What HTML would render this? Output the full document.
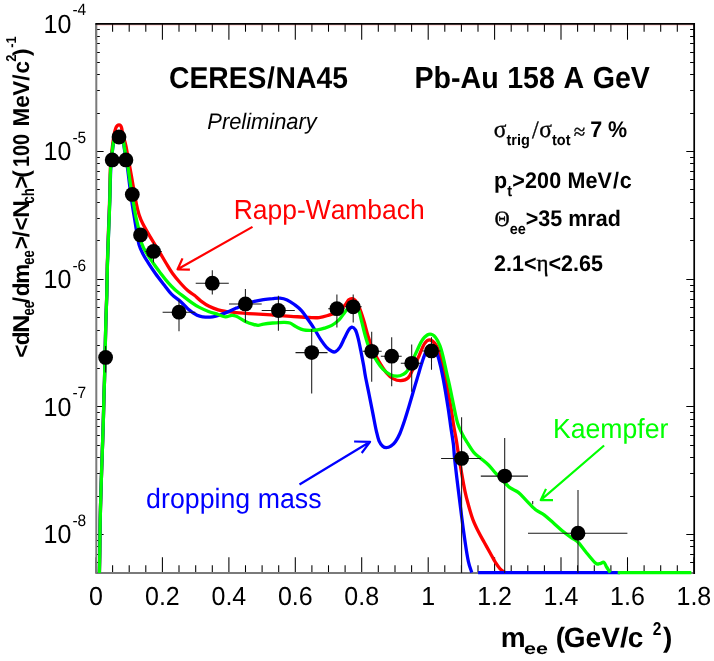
<!DOCTYPE html>
<html><head><meta charset="utf-8"><title>CERES/NA45</title>
<style>
html,body{margin:0;padding:0;background:#fff}
body{width:714px;height:661px;overflow:hidden;position:relative;font-family:"Liberation Sans",sans-serif;font-kerning:none;font-variant-ligatures:none;text-rendering:geometricPrecision}
#c{position:absolute;left:0;top:0;width:714px;height:661px;overflow:hidden;will-change:transform}
</style></head><body><div id="c">
<svg width="714" height="661" viewBox="0 0 714 661" style="position:absolute;left:0;top:0">
<path d="M96.0 573.0 V557.2 M96.0 23.9 V39.7 M112.6 573.0 V565.2 M112.6 23.9 V31.7 M129.2 573.0 V565.2 M129.2 23.9 V31.7 M145.8 573.0 V565.2 M145.8 23.9 V31.7 M162.4 573.0 V557.2 M162.4 23.9 V39.7 M179.0 573.0 V565.2 M179.0 23.9 V31.7 M195.7 573.0 V565.2 M195.7 23.9 V31.7 M212.3 573.0 V565.2 M212.3 23.9 V31.7 M228.9 573.0 V557.2 M228.9 23.9 V39.7 M245.5 573.0 V565.2 M245.5 23.9 V31.7 M262.1 573.0 V565.2 M262.1 23.9 V31.7 M278.7 573.0 V565.2 M278.7 23.9 V31.7 M295.3 573.0 V557.2 M295.3 23.9 V39.7 M311.9 573.0 V565.2 M311.9 23.9 V31.7 M328.5 573.0 V565.2 M328.5 23.9 V31.7 M345.1 573.0 V565.2 M345.1 23.9 V31.7 M361.7 573.0 V557.2 M361.7 23.9 V39.7 M378.3 573.0 V565.2 M378.3 23.9 V31.7 M395.0 573.0 V565.2 M395.0 23.9 V31.7 M411.6 573.0 V565.2 M411.6 23.9 V31.7 M428.2 573.0 V557.2 M428.2 23.9 V39.7 M444.8 573.0 V565.2 M444.8 23.9 V31.7 M461.4 573.0 V565.2 M461.4 23.9 V31.7 M478.0 573.0 V565.2 M478.0 23.9 V31.7 M494.6 573.0 V557.2 M494.6 23.9 V39.7 M511.2 573.0 V565.2 M511.2 23.9 V31.7 M527.8 573.0 V565.2 M527.8 23.9 V31.7 M544.4 573.0 V565.2 M544.4 23.9 V31.7 M561.0 573.0 V557.2 M561.0 23.9 V39.7 M577.6 573.0 V565.2 M577.6 23.9 V31.7 M594.3 573.0 V565.2 M594.3 23.9 V31.7 M610.9 573.0 V565.2 M610.9 23.9 V31.7 M627.5 573.0 V557.2 M627.5 23.9 V39.7 M644.1 573.0 V565.2 M644.1 23.9 V31.7 M660.7 573.0 V565.2 M660.7 23.9 V31.7 M677.3 573.0 V565.2 M677.3 23.9 V31.7 M693.9 573.0 V557.2 M693.9 23.9 V39.7 M96.0 573.5 H99.8 M693.9 573.5 H690.1 M96.0 562.5 H99.8 M693.9 562.5 H690.1 M96.0 554.5 H99.8 M693.9 554.5 H690.1 M96.0 546.5 H99.8 M693.9 546.5 H690.1 M96.0 540.5 H99.8 M693.9 540.5 H690.1 M96.0 534.5 H103.6 M693.9 534.5 H686.3 M96.0 496.5 H99.8 M693.9 496.5 H690.1 M96.0 473.5 H99.8 M693.9 473.5 H690.1 M96.0 457.5 H99.8 M693.9 457.5 H690.1 M96.0 445.5 H99.8 M693.9 445.5 H690.1 M96.0 435.5 H99.8 M693.9 435.5 H690.1 M96.0 426.5 H99.8 M693.9 426.5 H690.1 M96.0 419.5 H99.8 M693.9 419.5 H690.1 M96.0 412.5 H99.8 M693.9 412.5 H690.1 M96.0 406.5 H103.6 M693.9 406.5 H686.3 M96.0 368.5 H99.8 M693.9 368.5 H690.1 M96.0 345.5 H99.8 M693.9 345.5 H690.1 M96.0 330.5 H99.8 M693.9 330.5 H690.1 M96.0 317.5 H99.8 M693.9 317.5 H690.1 M96.0 307.5 H99.8 M693.9 307.5 H690.1 M96.0 299.5 H99.8 M693.9 299.5 H690.1 M96.0 291.5 H99.8 M693.9 291.5 H690.1 M96.0 285.5 H99.8 M693.9 285.5 H690.1 M96.0 279.5 H103.6 M693.9 279.5 H686.3 M96.0 240.5 H99.8 M693.9 240.5 H690.1 M96.0 218.5 H99.8 M693.9 218.5 H690.1 M96.0 202.5 H99.8 M693.9 202.5 H690.1 M96.0 189.5 H99.8 M693.9 189.5 H690.1 M96.0 179.5 H99.8 M693.9 179.5 H690.1 M96.0 171.5 H99.8 M693.9 171.5 H690.1 M96.0 163.5 H99.8 M693.9 163.5 H690.1 M96.0 157.5 H99.8 M693.9 157.5 H690.1 M96.0 151.5 H103.6 M693.9 151.5 H686.3 M96.0 113.5 H99.8 M693.9 113.5 H690.1 M96.0 90.5 H99.8 M693.9 90.5 H690.1 M96.0 74.5 H99.8 M693.9 74.5 H690.1 M96.0 62.5 H99.8 M693.9 62.5 H690.1 M96.0 52.5 H99.8 M693.9 52.5 H690.1 M96.0 43.5 H99.8 M693.9 43.5 H690.1 M96.0 36.5 H99.8 M693.9 36.5 H690.1 M96.0 29.5 H99.8 M693.9 29.5 H690.1 M96.0 23.5 H103.6 M693.9 23.5 H686.3" stroke="#000" stroke-width="1.05" fill="none"/>
<path d="M96.3 23.3 V573.0 H693.9" stroke="#7a7a7a" stroke-width="2" fill="none"/>
<path d="M97.0 24.9 H692.9" stroke="#ff0000" stroke-width="0.8" fill="none" opacity="0.4"/>
<path d="M95.4 23.9 H694.2 V573.9" stroke="#000" stroke-width="1.7" fill="none"/>
<g fill="none" stroke-width="3.3" stroke-linejoin="round" stroke-linecap="butt">
<path d="M99.4 573.0 C99.5 569.2 99.7 558.8 99.8 550.0 C99.9 541.2 100.0 530.0 100.2 520.0 C100.4 510.0 100.7 500.5 101.0 490.0 C101.3 479.5 101.7 467.8 102.1 457.0 C102.5 446.2 102.9 435.3 103.2 425.0 C103.5 414.7 103.8 402.5 104.0 395.0 C104.2 387.5 104.3 387.5 104.5 380.0 C104.7 372.5 105.0 360.0 105.2 350.0 C105.4 340.0 105.7 329.2 105.9 320.0 C106.2 310.8 106.5 304.2 106.7 295.0 C106.9 285.8 107.0 275.5 107.3 265.0 C107.6 254.5 108.0 242.8 108.4 232.0 C108.8 221.2 109.3 210.7 109.6 200.0 C109.9 189.3 110.0 176.3 110.4 168.0 C110.8 159.7 111.4 155.5 112.0 150.0 C112.6 144.5 113.4 138.7 114.0 135.0 C114.6 131.3 115.2 129.6 115.8 128.0 C116.4 126.4 117.0 126.0 117.5 125.5 C118.0 125.0 118.5 124.8 119.0 124.8 C119.5 124.8 120.1 125.0 120.5 125.5 C120.9 126.0 121.2 126.4 121.6 128.0 C122.0 129.6 122.3 131.9 123.0 135.0 C123.7 138.1 125.1 142.1 126.0 146.3 C126.9 150.5 127.8 156.4 128.5 160.0 C129.2 163.6 129.2 163.8 130.0 168.0 C130.8 172.2 131.9 179.1 133.0 185.0 C134.1 190.9 135.3 198.7 136.3 203.6 C137.3 208.5 137.9 211.2 139.0 214.5 C140.1 217.8 140.9 220.0 142.7 223.6 C144.5 227.2 147.0 231.5 149.9 236.3 C152.8 241.2 157.2 248.2 159.9 252.7 C162.6 257.2 164.2 260.0 166.3 263.5 C168.4 267.0 170.2 270.2 172.6 273.5 C175.0 276.8 178.2 280.6 180.8 283.5 C183.4 286.4 185.7 288.8 188.0 290.8 C190.3 292.8 192.3 293.6 194.4 295.3 C196.5 297.0 198.2 299.0 200.7 300.8 C203.1 302.6 206.2 304.8 209.1 306.3 C212.0 307.8 215.2 309.0 218.2 309.9 C221.2 310.8 224.2 311.2 227.2 311.7 C230.2 312.1 231.8 312.2 236.3 312.6 C240.9 313.0 248.4 313.5 254.5 313.9 C260.6 314.3 266.6 314.6 272.6 315.0 C278.7 315.4 284.8 315.9 290.8 316.3 C296.9 316.7 304.2 317.3 308.9 317.5 C313.6 317.7 315.9 318.0 319.1 317.6 C322.3 317.2 325.2 316.3 328.2 315.4 C331.2 314.5 334.2 313.6 336.9 312.0 C339.6 310.4 342.5 307.6 344.5 305.6 C346.5 303.6 347.5 301.0 348.8 299.8 C350.1 298.6 351.1 298.5 352.2 298.6 C353.3 298.7 354.2 299.1 355.4 300.6 C356.6 302.1 357.9 304.4 359.3 307.6 C360.7 310.8 362.1 315.1 363.6 319.9 C365.1 324.7 366.6 331.4 368.1 336.3 C369.6 341.2 370.8 344.8 372.6 349.0 C374.4 353.2 376.7 357.8 379.0 361.7 C381.3 365.6 383.9 369.7 386.3 372.6 C388.7 375.5 391.1 377.5 393.5 378.9 C395.9 380.2 398.4 380.8 400.8 380.7 C403.2 380.6 406.0 379.9 408.0 378.0 C410.0 376.1 411.2 372.6 413.0 369.0 C414.8 365.4 417.0 360.4 418.9 356.2 C420.8 352.0 422.6 346.3 424.5 343.6 C426.4 340.9 428.0 339.7 430.0 340.0 C432.0 340.3 434.6 343.0 436.3 345.4 C438.0 347.8 438.8 350.6 440.0 354.5 C441.2 358.4 442.4 363.6 443.6 369.0 C444.8 374.4 446.0 380.8 447.2 387.2 C448.4 393.6 449.8 400.8 450.9 407.1 C452.0 413.5 452.7 419.8 453.6 425.3 C454.5 430.8 455.5 435.4 456.3 440.0 C457.1 444.6 457.3 447.2 458.2 452.7 C459.1 458.2 460.5 466.7 461.6 473.1 C462.7 479.5 463.9 486.0 465.0 491.3 C466.1 496.6 467.1 500.2 468.4 504.9 C469.7 509.6 471.2 515.1 472.9 519.6 C474.6 524.1 476.7 528.3 478.6 532.1 C480.5 535.9 482.3 538.9 484.2 542.3 C486.1 545.7 488.0 549.1 489.9 552.5 C491.8 555.9 493.9 560.0 495.6 562.7 C497.3 565.4 498.6 567.3 500.1 568.9 C501.6 570.5 503.9 571.9 504.7 572.5" stroke="#ff0000"/>
<path d="M99.4 573.0 C99.5 569.2 99.7 558.8 99.8 550.0 C99.9 541.2 100.0 530.0 100.2 520.0 C100.4 510.0 100.7 500.5 101.0 490.0 C101.3 479.5 101.7 467.8 102.1 457.0 C102.5 446.2 102.9 435.3 103.2 425.0 C103.5 414.7 103.8 402.5 104.0 395.0 C104.2 387.5 104.3 387.5 104.5 380.0 C104.7 372.5 105.0 360.0 105.2 350.0 C105.4 340.0 105.6 329.2 105.9 320.0 C106.2 310.8 106.5 304.2 106.8 295.0 C107.0 285.8 107.1 275.5 107.4 265.0 C107.7 254.5 108.2 242.8 108.6 232.0 C109.0 221.2 109.4 210.7 109.8 200.0 C110.2 189.3 110.3 176.9 110.8 168.0 C111.3 159.1 112.4 151.1 113.0 146.3 C113.6 141.5 114.0 141.0 114.6 139.0 C115.2 137.0 115.8 135.5 116.5 134.5 C117.2 133.5 118.2 133.0 119.0 133.0 C119.8 133.0 120.8 133.5 121.5 134.5 C122.2 135.5 122.5 137.0 122.9 139.0 C123.3 141.0 123.5 142.8 124.0 146.3 C124.5 149.8 125.4 156.4 126.0 160.0 C126.6 163.6 126.8 163.3 127.5 168.0 C128.2 172.7 129.2 182.1 130.0 188.0 C130.8 193.9 131.3 198.6 132.1 203.6 C132.8 208.6 133.7 213.3 134.5 218.2 C135.3 223.0 136.1 228.3 136.8 232.7 C137.6 237.1 138.0 241.0 139.0 244.5 C140.0 248.0 141.2 250.6 142.7 253.6 C144.2 256.6 146.0 259.3 148.1 262.6 C150.2 265.9 152.7 269.7 155.4 273.5 C158.1 277.3 161.7 281.8 164.4 285.3 C167.1 288.8 169.0 291.7 171.7 294.4 C174.4 297.1 178.1 299.3 180.8 301.7 C183.5 304.1 185.3 306.6 188.0 308.9 C190.7 311.2 194.6 314.0 197.1 315.3 C199.6 316.6 200.4 316.6 203.0 316.8 C205.6 317.1 209.9 317.1 212.7 316.8 C215.5 316.5 217.6 315.8 220.0 315.0 C222.4 314.2 224.5 313.2 227.2 312.1 C229.9 311.0 233.3 309.4 236.3 308.1 C239.3 306.8 242.4 305.4 245.4 304.3 C248.4 303.2 251.5 302.2 254.5 301.4 C257.5 300.6 260.5 300.1 263.5 299.6 C266.5 299.2 269.9 298.9 272.6 298.7 C275.3 298.4 277.5 297.9 279.9 298.1 C282.3 298.3 284.7 298.8 287.1 299.9 C289.5 301.0 292.0 302.7 294.4 304.5 C296.8 306.3 299.3 308.1 301.7 310.8 C304.1 313.5 306.8 317.8 308.9 320.8 C311.0 323.8 312.4 325.8 314.4 329.0 C316.4 332.2 318.9 336.9 320.9 339.9 C322.9 342.9 324.5 345.2 326.3 347.1 C328.1 349.0 330.3 350.5 331.8 351.3 C333.3 352.1 334.0 352.4 335.4 351.7 C336.8 351.0 338.5 349.4 340.0 347.1 C341.5 344.8 343.1 340.8 344.5 338.1 C345.9 335.4 346.9 332.6 348.1 330.8 C349.3 329.0 350.6 327.4 351.8 327.2 C353.0 327.0 354.3 328.1 355.4 329.9 C356.4 331.7 357.2 334.6 358.1 338.1 C359.0 341.6 359.9 346.3 360.8 350.8 C361.7 355.3 362.8 361.1 363.6 365.3 C364.4 369.6 364.5 371.4 365.4 376.3 C366.3 381.2 367.9 388.4 369.1 394.5 C370.3 400.6 371.5 406.6 372.7 412.6 C373.9 418.7 375.2 426.1 376.3 430.8 C377.4 435.5 377.9 438.2 379.0 440.8 C380.1 443.4 381.5 445.1 382.7 446.2 C383.9 447.3 384.9 447.7 386.3 447.7 C387.7 447.7 389.3 447.2 390.8 446.2 C392.3 445.2 393.9 443.8 395.4 441.7 C396.9 439.6 398.4 437.0 399.9 433.5 C401.4 430.0 403.0 425.3 404.5 420.8 C406.0 416.3 407.5 411.3 409.0 406.3 C410.5 401.3 412.0 396.0 413.5 390.8 C415.0 385.6 416.6 380.4 418.1 375.4 C419.6 370.3 421.2 364.6 422.6 360.5 C424.0 356.4 425.1 353.1 426.5 350.6 C427.9 348.1 429.5 346.2 430.8 345.6 C432.1 345.0 433.2 345.9 434.3 347.2 C435.4 348.5 436.0 350.2 437.1 353.5 C438.2 356.8 439.6 361.9 440.8 367.2 C442.0 372.5 443.2 378.7 444.4 385.4 C445.6 392.1 446.9 400.2 448.0 407.2 C449.1 414.1 449.9 420.8 450.8 427.1 C451.7 433.5 452.9 439.9 453.5 445.3 C454.1 450.7 453.9 452.2 454.7 459.5 C455.5 466.8 457.0 479.6 458.2 489.0 C459.4 498.4 460.5 507.5 461.6 516.2 C462.7 524.9 463.9 533.6 465.0 541.2 C466.1 548.8 467.3 556.4 468.4 561.6 C469.5 566.8 471.2 570.7 471.8 572.5" stroke="#0000ff"/>
<path d="M478.1 572.6 H620" stroke="#0000ff"/>
<path d="M99.4 573.0 C99.5 569.2 99.7 558.8 99.8 550.0 C99.9 541.2 100.0 530.0 100.2 520.0 C100.4 510.0 100.7 500.5 101.0 490.0 C101.3 479.5 101.7 467.8 102.1 457.0 C102.5 446.2 102.9 435.3 103.2 425.0 C103.5 414.7 103.8 402.5 104.0 395.0 C104.2 387.5 104.3 387.5 104.5 380.0 C104.7 372.5 105.0 360.0 105.2 350.0 C105.4 340.0 105.6 329.2 105.9 320.0 C106.2 310.8 106.5 304.2 106.8 295.0 C107.0 285.8 107.1 275.5 107.4 265.0 C107.7 254.5 108.2 242.8 108.6 232.0 C109.0 221.2 109.5 210.7 109.8 200.0 C110.1 189.3 110.1 176.9 110.6 168.0 C111.1 159.1 112.3 151.1 112.9 146.3 C113.5 141.5 113.8 141.1 114.3 139.0 C114.8 136.9 115.4 135.1 116.2 134.0 C117.0 132.9 118.1 132.3 119.0 132.3 C119.9 132.3 121.1 132.9 121.8 134.0 C122.5 135.1 122.8 136.9 123.2 139.0 C123.6 141.1 123.7 142.8 124.2 146.3 C124.8 149.8 125.8 156.4 126.5 160.0 C127.2 163.6 127.3 163.3 128.1 168.0 C128.8 172.7 130.1 182.1 131.0 188.0 C131.9 193.9 132.9 199.2 133.6 203.6 C134.3 208.0 134.6 210.3 135.4 214.5 C136.2 218.7 137.6 224.2 138.7 229.0 C139.8 233.8 140.4 239.7 141.7 243.6 C143.0 247.5 144.3 249.4 146.3 252.7 C148.3 256.0 151.1 260.0 153.5 263.5 C155.9 267.0 158.4 270.3 160.8 273.5 C163.2 276.7 165.7 279.9 168.1 282.6 C170.5 285.3 172.6 287.5 175.3 289.9 C178.0 292.3 181.7 295.0 184.4 297.1 C187.1 299.2 189.3 300.9 191.7 302.6 C194.1 304.3 196.0 305.6 198.9 307.1 C201.8 308.6 205.9 310.5 209.1 311.7 C212.3 312.9 215.5 313.6 218.2 314.5 C220.9 315.4 223.1 316.7 225.4 316.8 C227.7 316.9 230.0 315.5 231.8 315.4 C233.6 315.3 234.0 315.3 236.3 316.3 C238.6 317.3 242.7 320.1 245.4 321.4 C248.1 322.7 250.5 323.5 252.6 324.1 C254.7 324.8 256.3 325.3 258.1 325.3 C259.9 325.3 261.1 324.5 263.5 324.1 C265.9 323.7 269.3 323.3 272.6 323.0 C275.9 322.7 280.6 322.3 283.5 322.3 C286.4 322.3 287.8 322.2 289.9 323.0 C292.0 323.8 293.9 325.7 296.2 326.8 C298.5 327.9 301.1 329.3 303.5 329.9 C305.9 330.5 308.4 330.4 310.7 330.4 C313.0 330.4 315.0 330.3 317.3 329.9 C319.6 329.5 322.1 328.9 324.5 328.1 C326.9 327.4 329.4 326.8 331.8 325.4 C334.2 324.0 336.9 322.0 339.0 319.9 C341.1 317.8 343.0 314.7 344.5 312.7 C346.0 310.7 346.9 309.3 348.1 308.1 C349.4 306.9 350.7 305.8 352.0 305.5 C353.3 305.2 354.8 305.6 356.0 306.5 C357.2 307.4 358.1 308.3 359.0 310.8 C359.9 313.3 360.6 317.4 361.7 321.7 C362.8 325.9 364.2 332.1 365.4 336.3 C366.6 340.5 367.0 342.9 369.0 347.1 C371.0 351.3 374.9 358.1 377.2 361.7 C379.5 365.3 380.5 366.8 382.6 368.9 C384.7 371.0 387.5 373.2 389.9 374.4 C392.3 375.6 395.0 376.1 397.1 376.2 C399.2 376.2 400.8 375.8 402.6 374.7 C404.4 373.6 405.9 373.2 408.0 369.8 C410.1 366.4 413.2 358.9 415.3 354.4 C417.4 349.9 419.3 345.5 420.8 342.6 C422.3 339.7 423.0 338.6 424.5 337.2 C426.0 335.8 428.2 334.2 430.0 334.2 C431.8 334.2 433.8 335.3 435.4 337.2 C437.0 339.1 438.5 342.2 439.8 345.4 C441.1 348.6 441.9 351.8 443.0 356.3 C444.1 360.8 445.4 367.2 446.6 372.6 C447.8 378.1 449.1 383.2 450.3 389.0 C451.5 394.8 452.8 401.4 454.0 407.1 C455.2 412.9 456.3 418.9 457.7 423.5 C459.1 428.1 460.9 431.2 462.5 434.4 C464.1 437.6 465.3 439.4 467.2 442.5 C469.1 445.6 471.7 450.1 474.0 452.7 C476.3 455.3 478.3 456.3 480.8 458.4 C483.3 460.5 486.3 462.8 488.8 465.2 C491.3 467.6 493.2 470.5 495.6 473.1 C498.0 475.7 500.6 478.5 503.0 481.0 C505.4 483.5 507.8 486.0 510.3 487.9 C512.9 489.8 515.6 490.3 518.3 492.4 C520.9 494.5 523.4 497.5 526.2 500.3 C529.0 503.1 532.3 506.9 535.3 509.4 C538.3 511.9 541.4 512.8 544.4 515.1 C547.4 517.4 550.5 520.4 553.5 523.0 C556.5 525.6 559.5 528.5 562.5 531.0 C565.5 533.5 569.0 536.0 571.6 537.8 C574.2 539.6 575.5 539.7 577.9 542.0 C580.2 544.3 582.8 548.2 585.7 551.7 C588.6 555.2 593.1 560.9 595.4 562.9 C597.7 564.9 598.2 563.8 599.6 563.7 C601.0 563.6 602.6 561.8 603.8 562.3 C605.0 562.8 605.5 565.3 606.6 567.0 C607.7 568.7 609.6 571.7 610.2 572.6" stroke="#00ff00"/>
<path d="M617.7 572.6 H691.3" stroke="#00ff00"/>
</g>
<path d="M105.6 345.9 V372.6 M145.2 251.4 H161.8 M153.5 242.5 V262.5 M162.6 312.2 H195.3 M179.0 299.6 V331.3 M195.7 283.2 H228.8 M212.3 270.3 V294.5 M229.0 303.9 H261.7 M245.4 289.0 V322.6 M261.7 310.5 H294.8 M278.4 295.8 V330.8 M295.5 352.6 H327.5 M311.7 329.0 V393.4 M328.2 308.7 H344.7 M336.9 294.5 V327.5 M344.9 306.8 H361.7 M353.2 294.5 V322.6 M362.6 351.3 H381.7 M371.7 331.7 V381.8 M380.8 356.2 H401.7 M391.7 337.2 V386.3 M400.8 363.3 H421.7 M411.7 344.4 V391.7 M422.5 350.9 H440.5 M431.5 337.2 V369.7 M441.1 458.4 H480.8 M461.6 417.2 V573.0 M480.8 476.1 H528.0 M504.7 437.9 V573.0 M528.0 533.2 H627.4 M578.0 490.0 V573.0 M532.7 501 V504.3" stroke="#1a1a1a" stroke-width="1.05" fill="none"/>
<circle cx="105.6" cy="357.4" r="7.4" fill="#000"/>
<circle cx="119.0" cy="137.0" r="7.4" fill="#000"/>
<circle cx="112.2" cy="159.9" r="7.4" fill="#000"/>
<circle cx="125.9" cy="159.9" r="7.4" fill="#000"/>
<circle cx="132.3" cy="194.4" r="7.4" fill="#000"/>
<circle cx="140.5" cy="234.9" r="7.4" fill="#000"/>
<circle cx="153.5" cy="251.4" r="7.4" fill="#000"/>
<circle cx="179.0" cy="312.2" r="7.4" fill="#000"/>
<circle cx="212.3" cy="283.2" r="7.4" fill="#000"/>
<circle cx="245.4" cy="303.9" r="7.4" fill="#000"/>
<circle cx="278.4" cy="310.5" r="7.4" fill="#000"/>
<circle cx="311.7" cy="352.6" r="7.4" fill="#000"/>
<circle cx="336.9" cy="308.7" r="7.4" fill="#000"/>
<circle cx="353.2" cy="306.8" r="7.4" fill="#000"/>
<circle cx="371.7" cy="351.3" r="7.4" fill="#000"/>
<circle cx="391.7" cy="356.2" r="7.4" fill="#000"/>
<circle cx="411.7" cy="363.3" r="7.4" fill="#000"/>
<circle cx="431.5" cy="350.9" r="7.4" fill="#000"/>
<circle cx="461.6" cy="458.4" r="7.4" fill="#000"/>
<circle cx="504.7" cy="476.1" r="7.4" fill="#000"/>
<circle cx="578.0" cy="533.2" r="7.4" fill="#000"/>
<path d="M252.5 226.9 L177.6 269.3 M182.5 258.4 L177.6 269.3 L189.9 269.6" stroke="#ff0000" stroke-width="2.2" fill="none" stroke-linejoin="round" stroke-linecap="butt"/>
<path d="M299.5 484.5 L370.1 441.8 M354.1 441.5 L370.1 441.8 L361.7 453.0" stroke="#0000ff" stroke-width="2.2" fill="none" stroke-linejoin="round" stroke-linecap="butt"/>
<path d="M604.1 445.5 L540.7 500.1 M546.0 488.9 L540.7 500.1 L553.0 500.1" stroke="#00ff00" stroke-width="2.2" fill="none" stroke-linejoin="round" stroke-linecap="butt"/>
</svg>
<div style="position:absolute;white-space:nowrap;font-size:25px;line-height:28.725px;color:#000;font-weight:normal;font-style:normal;top:583.38px;left:96.0px;transform-origin:0 22.62px;transform:translateX(-50%) scaleY(1.045);">0</div>
<div style="position:absolute;white-space:nowrap;font-size:25px;line-height:28.725px;color:#000;font-weight:normal;font-style:normal;top:583.38px;left:162.4px;transform-origin:0 22.62px;transform:translateX(-50%) scaleY(1.045);">0.2</div>
<div style="position:absolute;white-space:nowrap;font-size:25px;line-height:28.725px;color:#000;font-weight:normal;font-style:normal;top:583.38px;left:228.9px;transform-origin:0 22.62px;transform:translateX(-50%) scaleY(1.045);">0.4</div>
<div style="position:absolute;white-space:nowrap;font-size:25px;line-height:28.725px;color:#000;font-weight:normal;font-style:normal;top:583.38px;left:295.3px;transform-origin:0 22.62px;transform:translateX(-50%) scaleY(1.045);">0.6</div>
<div style="position:absolute;white-space:nowrap;font-size:25px;line-height:28.725px;color:#000;font-weight:normal;font-style:normal;top:583.38px;left:361.7px;transform-origin:0 22.62px;transform:translateX(-50%) scaleY(1.045);">0.8</div>
<div style="position:absolute;white-space:nowrap;font-size:25px;line-height:28.725px;color:#000;font-weight:normal;font-style:normal;top:583.38px;left:428.2px;transform-origin:0 22.62px;transform:translateX(-50%) scaleY(1.045);">1</div>
<div style="position:absolute;white-space:nowrap;font-size:25px;line-height:28.725px;color:#000;font-weight:normal;font-style:normal;top:583.38px;left:494.6px;transform-origin:0 22.62px;transform:translateX(-50%) scaleY(1.045);">1.2</div>
<div style="position:absolute;white-space:nowrap;font-size:25px;line-height:28.725px;color:#000;font-weight:normal;font-style:normal;top:583.38px;left:561.0px;transform-origin:0 22.62px;transform:translateX(-50%) scaleY(1.045);">1.4</div>
<div style="position:absolute;white-space:nowrap;font-size:25px;line-height:28.725px;color:#000;font-weight:normal;font-style:normal;top:583.38px;left:627.5px;transform-origin:0 22.62px;transform:translateX(-50%) scaleY(1.045);">1.6</div>
<div style="position:absolute;white-space:nowrap;font-size:25px;line-height:28.725px;color:#000;font-weight:normal;font-style:normal;top:583.38px;left:693.9px;transform-origin:0 22.62px;transform:translateX(-50%) scaleY(1.045);">1.8</div>
<div style="position:absolute;white-space:nowrap;font-size:25px;line-height:28.725px;color:#000;font-weight:normal;font-style:normal;top:521.44px;left:43.6px;transform-origin:0 22.62px;transform:scaleY(1.05);">10</div>
<div style="position:absolute;white-space:nowrap;font-size:15.5px;line-height:17.8095px;color:#000;font-weight:normal;font-style:normal;top:512.84px;left:72.4px;transform-origin:0 14.03px;transform:scaleY(1.06);">-8</div>
<div style="position:absolute;white-space:nowrap;font-size:25px;line-height:28.725px;color:#000;font-weight:normal;font-style:normal;top:393.78px;left:43.6px;transform-origin:0 22.62px;transform:scaleY(1.05);">10</div>
<div style="position:absolute;white-space:nowrap;font-size:15.5px;line-height:17.8095px;color:#000;font-weight:normal;font-style:normal;top:385.17px;left:72.4px;transform-origin:0 14.03px;transform:scaleY(1.06);">-7</div>
<div style="position:absolute;white-space:nowrap;font-size:25px;line-height:28.725px;color:#000;font-weight:normal;font-style:normal;top:266.11px;left:43.6px;transform-origin:0 22.62px;transform:scaleY(1.05);">10</div>
<div style="position:absolute;white-space:nowrap;font-size:15.5px;line-height:17.8095px;color:#000;font-weight:normal;font-style:normal;top:257.51px;left:72.4px;transform-origin:0 14.03px;transform:scaleY(1.06);">-6</div>
<div style="position:absolute;white-space:nowrap;font-size:25px;line-height:28.725px;color:#000;font-weight:normal;font-style:normal;top:138.44px;left:43.6px;transform-origin:0 22.62px;transform:scaleY(1.05);">10</div>
<div style="position:absolute;white-space:nowrap;font-size:15.5px;line-height:17.8095px;color:#000;font-weight:normal;font-style:normal;top:129.84px;left:72.4px;transform-origin:0 14.03px;transform:scaleY(1.06);">-5</div>
<div style="position:absolute;white-space:nowrap;font-size:25px;line-height:28.725px;color:#000;font-weight:normal;font-style:normal;top:10.77px;left:43.6px;transform-origin:0 22.62px;transform:scaleY(1.05);">10</div>
<div style="position:absolute;white-space:nowrap;font-size:15.5px;line-height:17.8095px;color:#000;font-weight:normal;font-style:normal;top:2.17px;left:72.4px;transform-origin:0 14.03px;transform:scaleY(1.06);">-4</div>
<div style="position:absolute;white-space:nowrap;font-size:28.3px;line-height:32.5167px;color:#000;font-weight:bold;font-style:normal;top:61.99px;left:169.0px;transform-origin:0 25.61px;transform:scaleY(1.065);">CERES<span style="padding:0 0.7px 0 0.5px">/</span>NA45</div>
<div style="position:absolute;white-space:nowrap;font-size:28.6px;line-height:32.8614px;color:#000;font-weight:bold;font-style:normal;top:62.52px;left:414.5px;transform-origin:0 25.88px;word-spacing:0.6px;transform:scaleY(1.065);">Pb-Au 158 A GeV</div>
<div style="position:absolute;white-space:nowrap;font-size:21.9px;line-height:25.1631px;color:#000;font-weight:normal;font-style:italic;top:108.98px;left:207.3px;transform-origin:0 19.82px;transform:scaleY(1.03);">Preliminary</div>
<div style="position:absolute;white-space:nowrap;font-size:26.45px;line-height:30.391px;color:#ff0000;font-weight:normal;font-style:normal;top:195.26px;left:233.7px;transform-origin:0 23.94px;transform:scaleY(1.04);">Rapp-Wambach</div>
<div style="position:absolute;white-space:nowrap;font-size:26.75px;line-height:30.7357px;color:#0000ff;font-weight:normal;font-style:normal;top:483.59px;left:146.1px;transform-origin:0 24.21px;transform:scaleY(1.04);">dropping mass</div>
<div style="position:absolute;white-space:nowrap;font-size:26.6px;line-height:30.5634px;color:#00ff00;font-weight:normal;font-style:normal;top:413.53px;left:553.0px;transform-origin:0 24.07px;transform:scaleY(1.04);">Kaempfer</div>
<div style="position:absolute;white-space:nowrap;font-size:21.5px;line-height:24.7035px;color:#000;font-weight:bold;font-style:normal;top:118.04px;left:493.8px;transform-origin:0 19.46px;transform:scaleY(1.05);"><span style="font-family:'Liberation Serif',serif;font-weight:normal;-webkit-text-stroke:0.35px #000;font-size:23.5px">σ</span><span style="font-size:14.5px;position:relative;top:7.5px;line-height:0">trig</span><span style="font-family:'Liberation Serif',serif;font-weight:normal;-webkit-text-stroke:0.35px #000;font-size:24px;padding:0 0.6px 0 2.2px;position:relative;top:0.5px">/</span><span style="font-family:'Liberation Serif',serif;font-weight:normal;-webkit-text-stroke:0.35px #000;font-size:23.5px">σ</span><span style="font-size:14.5px;position:relative;top:7.5px;line-height:0">tot</span><span style="font-family:'Liberation Serif',serif;font-weight:normal;-webkit-text-stroke:0.35px #000;font-size:21px;padding:0 5px 0 3.2px;position:relative;top:1.5px">≈</span>7 %</div>
<div style="position:absolute;white-space:nowrap;font-size:21.5px;line-height:24.7035px;color:#000;font-weight:bold;font-style:normal;top:169.14px;left:494.0px;transform-origin:0 19.46px;letter-spacing:0.15px;transform:scaleY(1.05);">p<span style="font-size:14.5px;position:relative;top:7.5px;line-height:0">t</span>&gt;200 MeV<span style="padding:0 0.8px">/</span>c</div>
<div style="position:absolute;white-space:nowrap;font-size:21.5px;line-height:24.7035px;color:#000;font-weight:bold;font-style:normal;top:206.54px;left:494.5px;transform-origin:0 19.46px;transform:scaleY(1.05);"><span style="font-family:'Liberation Serif',serif;font-weight:normal;-webkit-text-stroke:0.35px #000;font-size:21px">Θ</span><span style="font-size:14.5px;position:relative;top:7.5px;line-height:0">ee</span>&gt;35 mrad</div>
<div style="position:absolute;white-space:nowrap;font-size:21.5px;line-height:24.7035px;color:#000;font-weight:bold;font-style:normal;top:251.64px;left:494.0px;transform-origin:0 19.46px;transform:scaleY(1.05);">2.1&lt;<span style="font-family:'Liberation Serif',serif;font-weight:normal;-webkit-text-stroke:0.35px #000;font-size:23px">η</span>&lt;2.65</div>
<div style="position:absolute;white-space:nowrap;font-weight:bold;left:500.75px;top:622.06px;font-size:28px;line-height:32.172px;transform-origin:0 25.34px;">m</div>
<div style="position:absolute;white-space:nowrap;font-weight:bold;left:524.16px;top:641.28px;font-size:15.6px;line-height:17.9244px;transform-origin:0 14.12px;transform:scale(1.38,1.03);">ee</div>
<div style="position:absolute;white-space:nowrap;font-weight:bold;left:555.81px;top:622.06px;font-size:28px;line-height:32.172px;transform-origin:0 25.34px;">(</div>
<div style="position:absolute;white-space:nowrap;font-weight:bold;left:563.85px;top:622.06px;font-size:28px;line-height:32.172px;transform-origin:0 25.34px;">G</div>
<div style="position:absolute;white-space:nowrap;font-weight:bold;left:585.51px;top:622.06px;font-size:28px;line-height:32.172px;transform-origin:0 25.34px;">e</div>
<div style="position:absolute;white-space:nowrap;font-weight:bold;left:601.31px;top:622.06px;font-size:28px;line-height:32.172px;transform-origin:0 25.34px;">V</div>
<div style="position:absolute;white-space:nowrap;font-weight:bold;left:620.20px;top:622.06px;font-size:28px;line-height:32.172px;transform-origin:0 25.34px;transform:scale(1.1,1);">/</div>
<div style="position:absolute;white-space:nowrap;font-weight:bold;left:627.81px;top:622.06px;font-size:28px;line-height:32.172px;transform-origin:0 25.34px;">c</div>
<div style="position:absolute;white-space:nowrap;font-weight:bold;left:652.76px;top:622.17px;font-size:15.5px;line-height:17.8095px;transform-origin:0 14.03px;transform:scale(1,1.2);">2</div>
<div style="position:absolute;white-space:nowrap;font-weight:bold;left:663.07px;top:622.06px;font-size:28px;line-height:32.172px;transform-origin:0 25.34px;">)</div>
<div id="yt" style="position:absolute;left:29.4px;top:356.5px;width:0;height:0;transform-origin:0 0;transform:rotate(-90deg) scaleY(1.02);white-space:nowrap;font-weight:bold"><span style="position:absolute;left:-0.64px;top:-20.36px;font-size:22.5px;line-height:25.8525px;transform-origin:0 20.36px;">&lt;</span><span style="position:absolute;left:11.78px;top:-20.36px;font-size:22.5px;line-height:25.8525px;transform-origin:0 20.36px;">d</span><span style="position:absolute;left:24.40px;top:-20.36px;font-size:22.5px;line-height:25.8525px;transform-origin:0 20.36px;transform:scale(1.13,1);">N</span><span style="position:absolute;left:41.59px;top:-5.57px;font-size:13px;line-height:14.937px;transform-origin:0 11.77px;transform:scale(1,1.3);">ee</span><span style="position:absolute;left:53.68px;top:-20.36px;font-size:22.5px;line-height:25.8525px;transform-origin:0 20.36px;">/</span><span style="position:absolute;left:60.68px;top:-20.36px;font-size:22.5px;line-height:25.8525px;transform-origin:0 20.36px;">d</span><span style="position:absolute;left:73.22px;top:-20.36px;font-size:22.5px;line-height:25.8525px;transform-origin:0 20.36px;">m</span><span style="position:absolute;left:92.19px;top:-5.57px;font-size:13px;line-height:14.937px;transform-origin:0 11.77px;transform:scale(1,1.3);">ee</span><span style="position:absolute;left:107.66px;top:-20.36px;font-size:22.5px;line-height:25.8525px;transform-origin:0 20.36px;">&gt;</span><span style="position:absolute;left:119.68px;top:-20.36px;font-size:22.5px;line-height:25.8525px;transform-origin:0 20.36px;">/</span><span style="position:absolute;left:126.56px;top:-20.36px;font-size:22.5px;line-height:25.8525px;transform-origin:0 20.36px;">&lt;</span><span style="position:absolute;left:138.74px;top:-20.36px;font-size:22.5px;line-height:25.8525px;transform-origin:0 20.36px;transform:scale(1.1,1);">N</span><span style="position:absolute;left:153.49px;top:-5.57px;font-size:13px;line-height:14.937px;transform-origin:0 11.77px;transform:scale(1,1.3);">ch</span><span style="position:absolute;left:168.16px;top:-20.36px;font-size:22.5px;line-height:25.8525px;transform-origin:0 20.36px;">&gt;</span><span style="position:absolute;left:179.18px;top:-20.36px;font-size:22.5px;line-height:25.8525px;transform-origin:0 20.36px;">(</span><span style="position:absolute;left:189.96px;top:-20.36px;font-size:22.5px;line-height:25.8525px;transform-origin:0 20.36px;transform:scale(0.875,1);">100</span><span style="position:absolute;left:230.59px;top:-20.36px;font-size:22.5px;line-height:25.8525px;transform-origin:0 20.36px;">M</span><span style="position:absolute;left:249.32px;top:-20.36px;font-size:22.5px;line-height:25.8525px;transform-origin:0 20.36px;">e</span><span style="position:absolute;left:261.35px;top:-20.36px;font-size:22.5px;line-height:25.8525px;transform-origin:0 20.36px;">V</span><span style="position:absolute;left:276.38px;top:-20.36px;font-size:22.5px;line-height:25.8525px;transform-origin:0 20.36px;">/</span><span style="position:absolute;left:283.52px;top:-20.36px;font-size:22.5px;line-height:25.8525px;transform-origin:0 20.36px;">c</span><span style="position:absolute;left:295.15px;top:-23.96px;font-size:13px;line-height:14.937px;transform-origin:0 11.77px;transform:scale(1,1.08);">2</span><span style="position:absolute;left:301.08px;top:-20.36px;font-size:22.5px;line-height:25.8525px;transform-origin:0 20.36px;">)</span><span style="position:absolute;left:309.29px;top:-23.96px;font-size:13px;line-height:14.937px;transform-origin:0 11.77px;transform:scale(1,1.08);">-1</span></div>
</div></body></html>
